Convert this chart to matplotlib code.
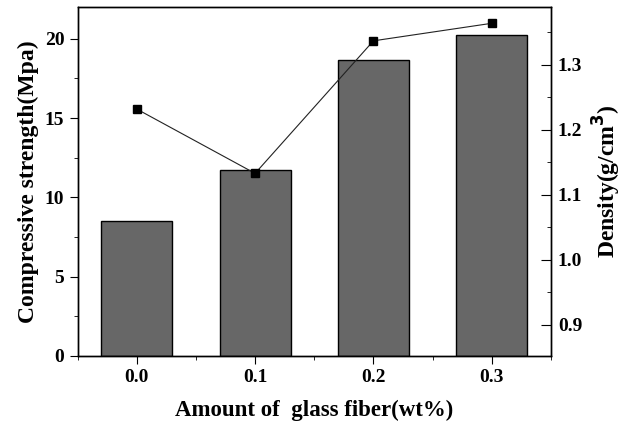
import matplotlib.pyplot as plt
from matplotlib.ticker import MultipleLocator

fiber = [0.0, 0.1, 0.2, 0.3]
strength = [8.54, 11.72, 18.68, 20.25]
density = [1.232, 1.133, 1.337, 1.364]

plt.rcParams['font.family'] = 'Liberation Serif'
plt.rcParams['font.weight'] = 'bold'

fig = plt.figure(figsize=(6.26, 4.25), dpi=100)
ax = fig.add_axes([0.124, 0.1624, 0.756, 0.821])

ax.bar(fiber, strength, width=0.06, color='#676767', edgecolor='black', linewidth=1.0, zorder=2)
ax.set_xlim(-0.05, 0.35)
ax.set_ylim(0, 22)
ax.set_xticks(fiber)
ax.set_xticklabels(['0.0', '0.1', '0.2', '0.3'])
ax.xaxis.set_minor_locator(MultipleLocator(0.05))
ax.yaxis.set_major_locator(MultipleLocator(5))
ax.yaxis.set_minor_locator(MultipleLocator(2.5))
ax.tick_params(which='both', direction='out', labelsize=14, top=False, right=False)
ax.tick_params(which='major', length=6)
ax.tick_params(which='minor', length=3)
ax.set_xlabel('Amount of  glass fiber(wt%)', fontsize=16.5, fontweight='bold', labelpad=10)
ax.set_ylabel('Compressive strength(Mpa)', fontsize=17, fontweight='bold', labelpad=4)

ax2 = ax.twinx()
ax2.plot(fiber, density, color='#222222', linewidth=0.8, marker='s', markersize=6,
         markerfacecolor='black', markeredgecolor='black', zorder=3)
ax2.set_ylim(0.852, 1.389)
ax2.yaxis.set_major_locator(MultipleLocator(0.1))
ax2.yaxis.set_minor_locator(MultipleLocator(0.05))
ax2.tick_params(which='both', direction='in', labelsize=14, pad=5)
ax2.tick_params(which='major', length=7)
ax2.tick_params(which='minor', length=3)
ax2.set_ylabel('Density(g/cm$^3$)', fontsize=17, fontweight='bold', labelpad=6)

for a in (ax, ax2):
    for s in a.spines.values():
        s.set_linewidth(1.0)

fig.savefig('out.png', dpi=100)
